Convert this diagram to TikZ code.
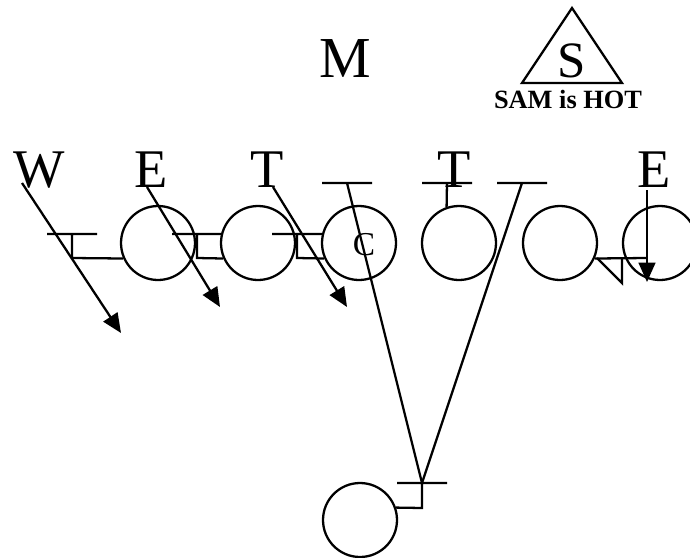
\documentclass[tikz,border=0pt]{standalone}
\usepackage{fontspec}
\setmainfont{Liberation Serif}
\usepackage{tikz}
\usetikzlibrary{arrows.meta}

\begin{document}
\begin{tikzpicture}[x=0.02cm,y=-0.02cm,line width=1.3pt,>={Triangle[length=11pt,width=9.5pt]},
	man/.style={circle,draw,minimum size=1.48cm,inner sep=0pt},
	def/.style={font=\fontsize{31}{31}\selectfont,anchor=base,inner sep=0pt}]
	\useasboundingbox (0,0) rectangle (690,558);
	
	% offense
	\node[man] (o1) at (158,243) {};
	\node[man] (o2) at (258,243) {};
	\node[man] (o3) at (359,243) {};
	\node[man] (o4) at (459,243) {};
	\node[man] (o5) at (560,243) {};
	\node[man] (o6) at (660,243) {};
	\node[man] (qb) at (360,520) {};
	\node[font=\fontsize{19}{19}\selectfont,anchor=base,inner sep=0pt] (ctr) at (364,255) {C};
	
	% defense
	\node[def] (w) at (39,187) {W};
	\node[def] (el) at (151,187) {E};
	\node[def] (tl) at (267,187) {T};
	\node[def] (tr) at (454,187) {T};
	\node[def] (er) at (654,187) {E};
	\node[def,font=\fontsize{33}{33}\selectfont] (m) at (345,77) {M};
	\node[def,font=\fontsize{29}{29}\selectfont] (s) at (572,77) {S};
	\node[anchor=base,inner sep=0pt,font=\bfseries\fontsize{15}{15}\selectfont] (hot) at (568,108) {SAM is HOT};
	\draw (572,8) -- (622,83) -- (522,83) -- cycle;
	
	% rush arrows
	\coordinate (w0) at (22,183);   \coordinate (w1) at (121,333);
	\coordinate (el0) at (147,187); \coordinate (el1) at (220,307);
	\coordinate (tl0) at (273,187); \coordinate (tl1) at (347,307);
	\coordinate (er0) at (647,190); \coordinate (er1) at (647,282);
	\draw[->] (w0) -- (w1);
	\draw[->] (el0) -- (el1);
	\draw[->] (tl0) -- (tl1);
	\draw[->] (er0) -- (er1);
	
	% blocks
	\draw (47,234) -- (97,234) (72,234) -- (72,258) -- (o1.204);
	\draw (172,234) -- (222,234) (197,234) -- (197,258) -- (o2.204);
	\draw (272,234) -- (322,234) (297,234) -- (297,258) -- (o3.204);
	\draw (422,183) -- (472,183) (447,183) -- (o4.109);
	\draw (o5.336) -- (647,258);
	\draw (597,258) -- (622,283) -- (622,258);
	
	% center and guard lines to the back
	\coordinate (apex) at (422,483);
	\draw (322,183) -- (372,183) (347,183) -- (apex);
	\draw (497,183) -- (547,183) (522,183) -- (apex);
	\draw (397,483) -- (447,483) (apex) -- (422,508) -- (qb.19);
\end{tikzpicture}
\end{document}
